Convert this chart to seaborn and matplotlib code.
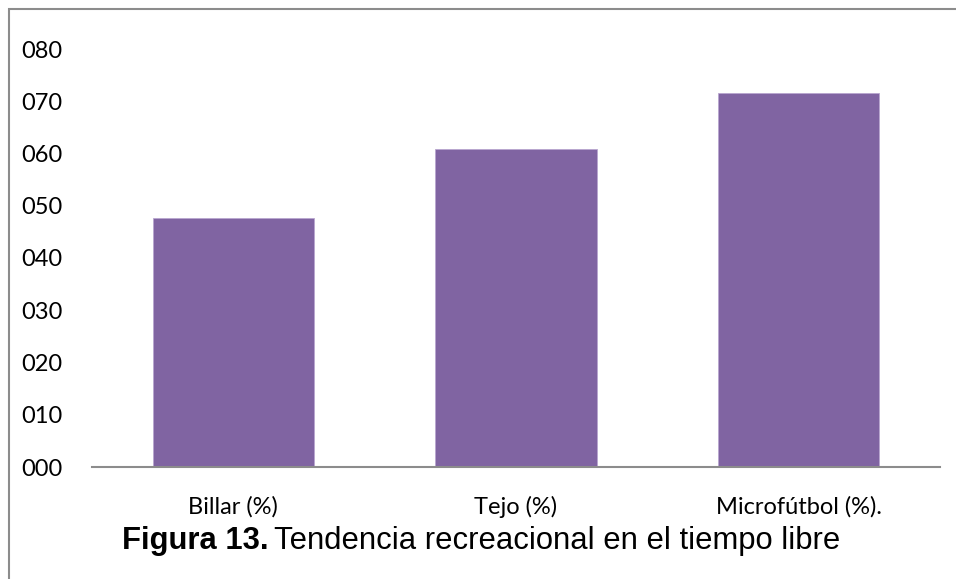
import matplotlib
matplotlib.use("Agg")
import matplotlib.pyplot as plt
import matplotlib.patches as mpatches
import seaborn as sns
import pandas as pd

categories = ["Billar (%)", "Tejo (%)", "Microfútbol (%)."]
values = [47.7, 60.8, 71.5]
y_ticks = [0, 10, 20, 30, 40, 50, 60, 70, 80]
y_tick_labels = ["000", "010", "020", "030", "040", "050", "060", "070", "080"]

BAR_COLOR = "#8064A2"
AXIS_GRAY = "#8c8c8c"

sns.set_style("white")
plt.rcParams["font.family"] = ["Lato", "DejaVu Sans"]
plt.rcParams["text.color"] = "black"
plt.rcParams["xtick.color"] = "black"
plt.rcParams["ytick.color"] = "black"

df = pd.DataFrame({"cat": categories, "val": values})

fig = plt.figure(figsize=(9.56, 5.79), dpi=100)
ax = fig.add_axes([92 / 956, 1 - 467 / 579, 848 / 956, (467 - 49) / 579])

sns.barplot(data=df, x="cat", y="val", color=BAR_COLOR, width=0.57,
            saturation=1, ax=ax, edgecolor="#b9a6cf", linewidth=0.6)

ax.set_ylim(0, 80)
ax.set_xlim(-0.5, 2.5)
ax.set_yticks(y_ticks)
ax.set_yticklabels(y_tick_labels)
ax.set_xlabel("")
ax.set_ylabel("")
ax.tick_params(axis="y", length=0, pad=21, labelsize=17, labelcolor="black")
ax.tick_params(axis="x", length=0, pad=21, labelsize=17, labelcolor="black")
for s in ["top", "right", "left"]:
    ax.spines[s].set_visible(False)
ax.spines["bottom"].set_color(AXIS_GRAY)
ax.spines["bottom"].set_linewidth(1.5)

# outer frame of the figure box
fig.patches.append(mpatches.Rectangle((8.5 / 956, -0.1), 1.2, 1 - 9.5 / 579 + 0.1,
                                      transform=fig.transFigure, fill=False,
                                      edgecolor=AXIS_GRAY, linewidth=1.5))

cap_y = 1 - 541 / 579
cap_bold = fig.text(122 / 956, cap_y, "Figura 13.", ha="left", va="center",
                    fontsize=22.3, fontweight="bold", family="Liberation Sans",
                    color="black")
fig.canvas.draw()
bb = cap_bold.get_window_extent()
fig.text(bb.x1 / 956 + 0.006, cap_y, "Tendencia recreacional en el tiempo libre",
         ha="left", va="center", fontsize=22.3, family="Liberation Sans", color="black")

fig.savefig("out.png", dpi=100)
